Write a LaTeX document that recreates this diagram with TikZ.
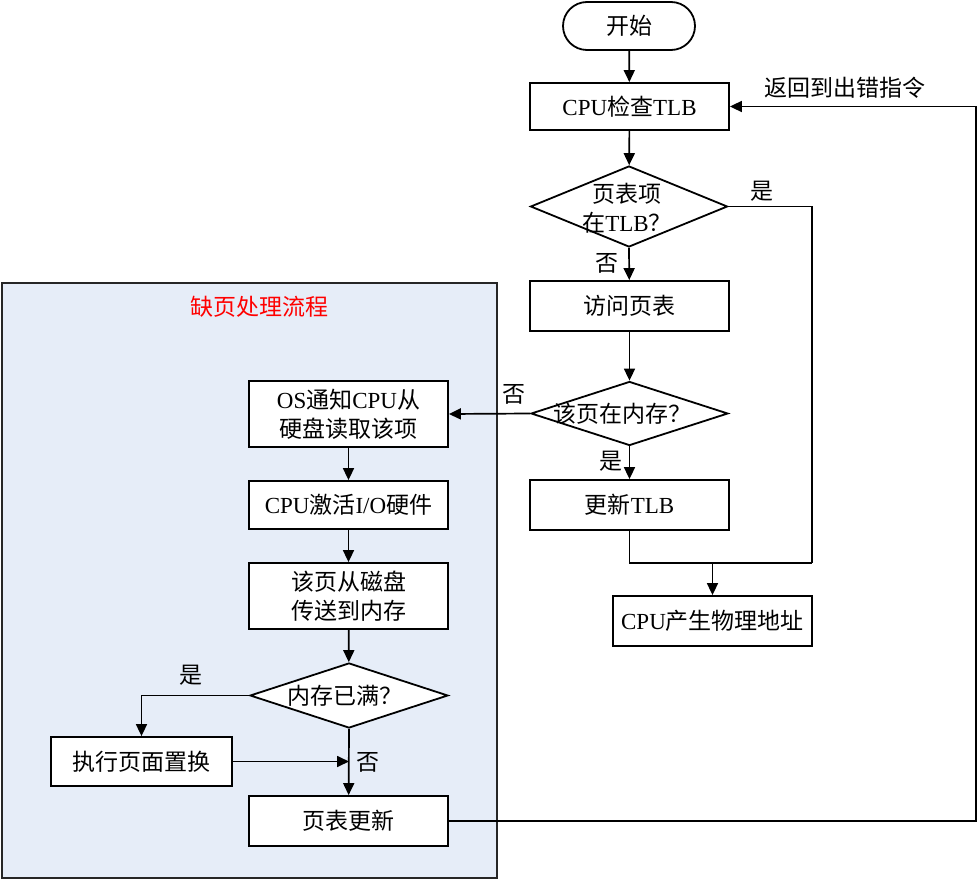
\documentclass[tikz,border=0pt]{standalone}
\usepackage{fontspec}
\setmainfont{Liberation Serif}
\newfontfamily\cjk{Noto Sans CJK SC}
\usetikzlibrary{arrows.meta,shapes.geometric}
\definecolor{panelblue}{RGB}{230,237,248}
\definecolor{titlered}{RGB}{255,0,0}
\tikzset{
  every node/.style={font=\fontsize{23}{29}\selectfont},
  boxnode/.style={draw, line width=1.8pt, fill=white, inner sep=0pt, minimum width=199pt, minimum height=50pt, align=center},
  dianode/.style={draw, diamond, line width=1.8pt, fill=white, inner sep=0pt, minimum width=197pt},
  termnode/.style={draw, line width=1.8pt, fill=white, rounded corners=24pt, minimum width=132pt, minimum height=48pt, inner sep=0pt},
  conn/.style={line width=1.7pt},
  arr/.style={line width=1.7pt, -{Triangle[length=12pt,width=11pt]}},
  lbl/.style={inner sep=0pt}
}
\begin{document}
\begin{tikzpicture}[x=1pt,y=-1pt]
\useasboundingbox (0,0) rectangle (978,880);
% panel
\draw[line width=1.8pt, draw=black!85, fill=panelblue] (2,283) rectangle (497,878);
\node[lbl, text=titlered] (title) at (259,307) {\cjk 缺页处理流程};

% right column
\node[termnode] (start) at (629,26) {\cjk 开始};
\node[boxnode, minimum height=47pt] (cpu) at (629.5,106.5) {CPU{\cjk 检查}TLB};
\node[dianode, minimum height=81pt] (d1) at (629,206.5) {};
\node[lbl, align=center] (d1t) at (627,208) {{\cjk 页表项}\\{\cjk 在}TLB{\cjk ？}};
\node[boxnode] (pt) at (629.5,306) {\cjk 访问页表};
\node[dianode, minimum height=64pt] (d2) at (629.5,413.5) {};
\node[lbl] (d2t) at (622,414) {\cjk 该页在内存？};
\node[boxnode] (tlbu) at (629.5,505) {{\cjk 更新}TLB};
\node[boxnode] (phys) at (712.5,621) {CPU{\cjk 产生物理地址}};

% panel nodes
\node[boxnode, minimum height=66pt] (os) at (348.5,414) {OS{\cjk 通知}CPU{\cjk 从}\\{\cjk 硬盘读取该项}};
\node[boxnode, minimum height=48pt] (io) at (348.5,505) {CPU{\cjk 激活}I/O{\cjk 硬件}};
\node[boxnode, minimum height=66pt] (disk) at (348.5,596) {{\cjk 该页从磁盘}\\{\cjk 传送到内存}};
\node[dianode, minimum width=198pt, minimum height=65pt] (d3) at (349,695.5) {};
\node[lbl] (d3t) at (345,696) {{\cjk 内存已满？}};
\node[boxnode, minimum width=181pt, minimum height=49pt] (rep) at (141.5,761.5) {\cjk 执行页面置换};
\node[boxnode] (ptu) at (348.5,821) {\cjk 页表更新};

% labels
\node[lbl] (l1) at (762,191) {\cjk 是};
\node[lbl] (l2) at (607,263) {\cjk 否};
\node[lbl] (l3) at (514,394) {\cjk 否};
\node[lbl] (l4) at (611,461) {\cjk 是};
\node[lbl] (l5) at (191,675) {\cjk 是};
\node[lbl] (l6) at (368,762) {\cjk 否};
\node[lbl] (l7) at (845,88) {\cjk 返回到出错指令};

% coordinates
\coordinate (jr) at (812,563);
\coordinate (jm) at (712.5,563);
\coordinate (rt) at (976,821);

% connectors
\draw[arr] (start) -- (cpu);
\draw[arr] (cpu) -- (d1);
\draw[arr] (d1.south) -- (pt);
\draw[arr] (pt) -- (d2);
\draw[arr] (d2.south) -- (tlbu);
\draw[conn] (tlbu.south) |- (jr);
\draw[conn] (d1.east) -| (jr);
\draw[arr] (jm) -- (phys);
\draw[arr] (d2.west) -- (os.east);
\draw[arr] (os) -- (io);
\draw[arr] (io) -- (disk);
\draw[arr] (disk) -- (d3);
\draw[arr] (d3.west) -| (rep.north);
\draw[arr] (rep.east) -- (rep.east -| d3.south);
\draw[arr] (d3.south) -- (ptu);
\draw[arr] (ptu.east) -- (rt) |- (cpu.east);
\end{tikzpicture}
\end{document}
